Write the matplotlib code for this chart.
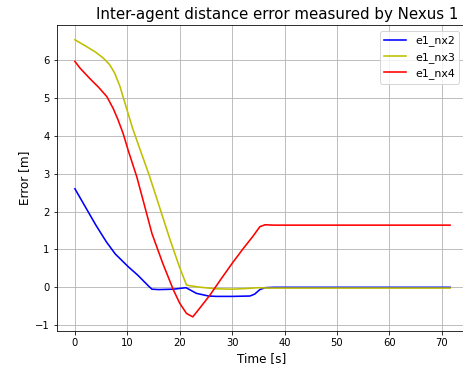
import matplotlib
matplotlib.use("Agg")
import matplotlib.pyplot as plt

# Data
t_nx2 = [0, 2, 4, 6, 7.7, 10.2, 12, 14, 14.7, 16, 18.8, 20, 21.2, 22, 23.2, 25.5, 27, 30, 33.4, 34.3, 35.3, 36.3, 38, 45, 60, 71.6]
e1_nx2 = [2.6, 2.12, 1.64, 1.2, 0.88, 0.54, 0.32, 0.04, -0.05, -0.06, -0.05, -0.03, -0.01, -0.07, -0.16, -0.23, -0.24, -0.24, -0.23, -0.18, -0.06, -0.01, 0.0, 0.0, 0.0, 0.0]

t_nx3 = [0, 2, 4, 5.4, 6.6, 7.6, 8.6, 9.9, 11, 12.4, 14.2, 16, 18.1, 20, 21.3, 22, 24, 27, 30, 33, 35, 37, 45, 60, 71.6]
e1_nx3 = [6.53, 6.37, 6.2, 6.05, 5.88, 5.65, 5.3, 4.7, 4.2, 3.65, 2.95, 2.18, 1.28, 0.52, 0.06, 0.04, 0.0, -0.04, -0.05, -0.03, -0.01, -0.02, -0.02, -0.02, -0.02]

t_nx4 = [0, 1, 2.9, 4.5, 6.1, 7.3, 8.2, 9.2, 10.2, 11.8, 13.2, 14.7, 16.8, 18.8, 20, 21.3, 22.5, 24, 25.8, 28, 30, 32, 34, 35.3, 36.3, 38, 50, 60, 71.6]
e1_nx4 = [5.96, 5.78, 5.5, 5.28, 5.03, 4.72, 4.43, 4.06, 3.6, 2.92, 2.2, 1.42, 0.62, -0.07, -0.42, -0.69, -0.78, -0.52, -0.2, 0.24, 0.63, 1.0, 1.35, 1.6, 1.65, 1.64, 1.64, 1.64, 1.64]

dpi = 72
W, H = 463, 374
fig = plt.figure(figsize=(W / dpi, H / dpi), dpi=dpi)
left, right, top, bottom = 56.7, 467.0, 25.0, 331.3
ax = fig.add_axes([left / W, 1 - bottom / H, (right - left) / W, (bottom - top) / H])
lw = 1.6
ax.plot(t_nx2, e1_nx2, color="blue", lw=lw, label="e1_nx2")
ax.plot(t_nx3, e1_nx3, color="y", lw=lw, label="e1_nx3")
ax.plot(t_nx4, e1_nx4, color="red", lw=lw, label="e1_nx4")
ax.set_title("Inter-agent distance error measured by Nexus 1", fontsize=15,
             x=(277.0 - left) / (right - left))
ax.set_xlabel("Time [s]", fontsize=12)
ax.set_ylabel("Error [m]", fontsize=12)
ax.tick_params(labelsize=10)
ax.set_xticks([0, 10, 20, 30, 40, 50, 60, 70])
ax.set_xlim((left - 74.9) / 5.24, (right - 74.9) / 5.24)
ax.set_ylim((287.3 - bottom) / 37.9, (287.3 - top) / 37.9)
ax.grid(True)
ax.legend(loc="upper left", borderaxespad=0, fontsize=11,
          bbox_to_anchor=((380 - left) / (right - left), 1 - (31 - top) / (bottom - top)))
fig.savefig("out.png", dpi=dpi)
